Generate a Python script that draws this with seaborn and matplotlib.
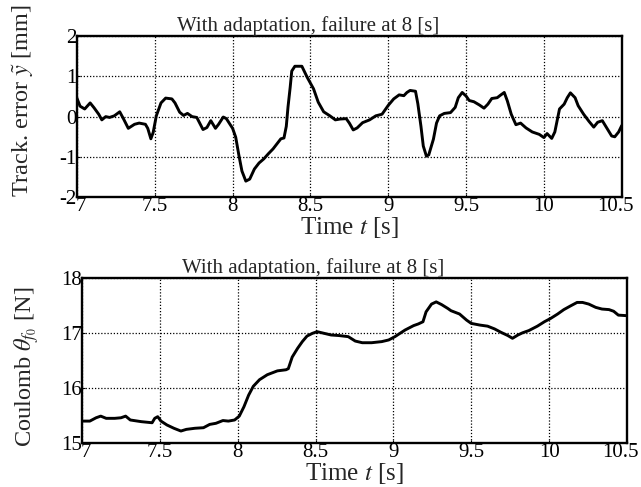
import numpy as np
import pandas as pd
import matplotlib
matplotlib.use("Agg")
import matplotlib.pyplot as plt
import matplotlib.transforms as mtransforms
import seaborn as sns

# track error
t_err = [7.00, 7.02, 7.05, 7.085, 7.11, 7.14, 7.16, 7.185, 7.21, 7.24, 7.275, 7.30, 7.33, 7.37, 7.40,
         7.44, 7.455, 7.475, 7.49, 7.51, 7.54, 7.57, 7.61, 7.63, 7.66, 7.685, 7.71, 7.74, 7.77, 7.81,
         7.835, 7.86, 7.89, 7.91, 7.94, 7.96, 8.00, 8.02, 8.04, 8.06, 8.085, 8.11, 8.14, 8.17, 8.20,
         8.23, 8.26, 8.29, 8.31, 8.33, 8.345, 8.356, 8.37, 8.38, 8.40, 8.445, 8.48, 8.52, 8.55, 8.585,
         8.625, 8.66, 8.69, 8.73, 8.75, 8.775, 8.80, 8.835, 8.88, 8.92, 8.96, 9.00, 9.035, 9.07, 9.10,
         9.12, 9.14, 9.175, 9.19, 9.21, 9.225, 9.245, 9.26, 9.29, 9.31, 9.33, 9.36, 9.40, 9.43, 9.45,
         9.475, 9.50, 9.52, 9.55, 9.585, 9.615, 9.64, 9.665, 9.70, 9.72, 9.745, 9.765, 9.79, 9.82, 9.85,
         9.885, 9.925, 9.97, 10.00, 10.02, 10.05, 10.07, 10.10, 10.13, 10.15, 10.17, 10.20, 10.22, 10.255,
         10.29, 10.32, 10.345, 10.375, 10.40, 10.435, 10.455, 10.48, 10.50]
err = [0.46, 0.26, 0.19, 0.34, 0.22, 0.06, -0.08, 0.0, -0.02, 0.02, 0.12, -0.06, -0.29, -0.19, -0.16,
       -0.19, -0.29, -0.55, -0.39, 0.02, 0.34, 0.46, 0.44, 0.34, 0.11, 0.03, 0.08, 0.0, -0.02, -0.32,
       -0.27, -0.10, -0.29, -0.19, -0.01, -0.05, -0.29, -0.51, -0.95, -1.35, -1.60, -1.55, -1.30, -1.15, -1.05,
       -0.92, -0.80, -0.65, -0.55, -0.53, -0.24, 0.24, 0.73, 1.13, 1.25, 1.25, 0.97, 0.69, 0.36, 0.12,
       0.02, -0.08, -0.06, -0.05, -0.16, -0.33, -0.28, -0.15, -0.08, 0.02, 0.06, 0.28, 0.44, 0.54, 0.52,
       0.60, 0.65, 0.63, 0.32, -0.24, -0.73, -0.98, -0.95, -0.56, -0.16, 0.02, 0.08, 0.10, 0.23, 0.47,
       0.60, 0.51, 0.40, 0.37, 0.29, 0.21, 0.31, 0.45, 0.47, 0.53, 0.60, 0.39, 0.06, -0.20, -0.16,
       -0.28, -0.38, -0.44, -0.52, -0.42, -0.54, -0.38, 0.19, 0.31, 0.47, 0.59, 0.47, 0.27, 0.06,
       -0.12, -0.26, -0.14, -0.10, -0.26, -0.48, -0.50, -0.38, -0.22]

# coulomb friction estimate
t_coul = [7.00, 7.05, 7.09, 7.12, 7.155, 7.21, 7.25, 7.28, 7.31, 7.38, 7.45, 7.467, 7.486, 7.507, 7.545,
          7.59, 7.635, 7.67, 7.725, 7.78, 7.82, 7.86, 7.905, 7.94, 7.98, 8.01, 8.04, 8.07, 8.10, 8.14,
          8.19, 8.255, 8.31, 8.325, 8.35, 8.385, 8.415, 8.445, 8.48, 8.51, 8.54, 8.60, 8.65, 8.71, 8.755,
          8.80, 8.86, 8.925, 8.97, 9.01, 9.075, 9.13, 9.16, 9.19, 9.21, 9.245, 9.275, 9.31, 9.35, 9.37,
          9.425, 9.47, 9.50, 9.555, 9.605, 9.65, 9.69, 9.735, 9.765, 9.80, 9.83, 9.87, 9.925, 9.97, 10.01,
          10.055, 10.095, 10.14, 10.18, 10.215, 10.255, 10.30, 10.34, 10.385, 10.415, 10.445, 10.50]
coul = [15.40, 15.40, 15.46, 15.49, 15.45, 15.45, 15.46, 15.49, 15.42, 15.39, 15.37, 15.45, 15.48, 15.40, 15.33,
        15.27, 15.22, 15.25, 15.27, 15.28, 15.34, 15.36, 15.41, 15.40, 15.42, 15.49, 15.66, 15.87, 16.03, 16.15,
        16.24, 16.31, 16.33, 16.35, 16.56, 16.72, 16.84, 16.94, 16.99, 17.02, 17.00, 16.96, 16.95, 16.93, 16.85,
        16.82, 16.82, 16.84, 16.87, 16.93, 17.05, 17.13, 17.16, 17.20, 17.38, 17.52, 17.56, 17.51, 17.44, 17.40,
        17.34, 17.23, 17.17, 17.14, 17.12, 17.07, 17.01, 16.95, 16.90, 16.96, 17.00, 17.04, 17.12, 17.20, 17.26,
        17.34, 17.42, 17.49, 17.55, 17.55, 17.52, 17.46, 17.43, 17.42, 17.39, 17.32, 17.31]

x_ticks = [7, 7.5, 8, 8.5, 9, 9.5, 10, 10.5]
x_ticklabels = ["7", "7.5", "8", "8.5", "9", "9.5", "10", "10.5"]
err_ticks = [-2, -1, 0, 1, 2]
err_ticklabels = ["-2", "-1", "0", "1", "2"]
coul_ticks = [15, 16, 17, 18]
coul_ticklabels = ["15", "16", "17", "18"]

sns.set_style("ticks")
plt.rcParams["font.family"] = ["Liberation Serif", "DejaVu Serif"]
plt.rcParams["mathtext.fontset"] = "stix"
plt.rcParams["axes.unicode_minus"] = False

df_err = pd.DataFrame({"t": t_err, "e": err})
df_coul = pd.DataFrame({"t": t_coul, "c": coul})

fig = plt.figure(figsize=(6.41, 4.87), dpi=100)
ax1 = fig.add_axes([0.120, 0.595, 0.850, 0.331])
ax2 = fig.add_axes([0.128, 0.090, 0.850, 0.340])

sns.lineplot(data=df_err, x="t", y="e", ax=ax1, color="black", linewidth=2.1)
sns.lineplot(data=df_coul, x="t", y="c", ax=ax2, color="black", linewidth=2.1)

setup = [(ax1, err_ticks, err_ticklabels, r"Track. error $\tilde{y}$ [mm]", -0.075, 0.60),
         (ax2, coul_ticks, coul_ticklabels, r"Coulomb $\theta_{f_0}$ [N]", -0.076, 0.46)]
for ax, yt, ytl, ylab, lx, ly in setup:
    ax.set_xlim(7, 10.5)
    ax.set_ylim(yt[0], yt[-1])
    ax.set_xticks(x_ticks)
    ax.set_xticklabels(x_ticklabels)
    ax.set_yticks(yt)
    ax.set_yticklabels(ytl)
    ax.tick_params(direction="in", length=2, labelsize=15, pad=0, colors="black")
    ax.grid(True, color="black", linestyle=(0, (1, 1.5)), linewidth=0.9)
    for s in ax.spines.values():
        s.set_visible(True)
        s.set_linewidth(1.7)
        s.set_color("black")
    ax.set_xlabel(r"Time $t$ [s]", fontsize=18, labelpad=-1)
    ax.set_ylabel(ylab, fontsize=17.5)
    ax.yaxis.set_label_coords(lx, ly)
    ax.set_title("With adaptation, failure at 8 [s]", fontsize=15, pad=0, x=0.425)
    # nudge the end x labels so they stay on the canvas
    last = ax.get_xticklabels()[-1]
    last.set_transform(last.get_transform() + mtransforms.ScaledTranslation(-0.06, 0, fig.dpi_scale_trans))
    first = ax.get_xticklabels()[0]
    first.set_transform(first.get_transform() + mtransforms.ScaledTranslation(0.04, 0, fig.dpi_scale_trans))

fig.savefig("out.png", dpi=100, facecolor="white")
